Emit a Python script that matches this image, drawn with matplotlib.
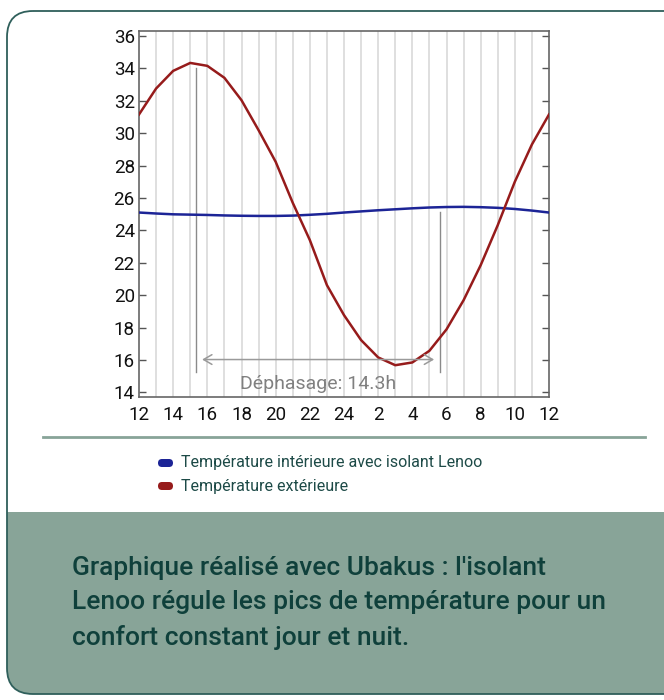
import matplotlib.pyplot as plt
from matplotlib.patches import FancyBboxPatch, Rectangle

plt.rcParams['font.family'] = ['Roboto', 'DejaVu Sans']

# hours since 12h, one point per hour
hours = list(range(25))
hour_labels = ['12', '14', '16', '18', '20', '22', '24', '2', '4', '6', '8', '10', '12']
t_ext = [31.15, 32.75, 33.84, 34.33, 34.15, 33.41, 32.03, 30.18, 28.23, 25.7,
         23.4, 20.62, 18.77, 17.23, 16.16, 15.68, 15.85, 16.57, 17.89, 19.69,
         21.85, 24.32, 27.0, 29.3, 31.15]
t_int = [25.10, 25.04, 24.99, 24.97, 24.95, 24.92, 24.90, 24.89, 24.89, 24.91,
         24.96, 25.02, 25.10, 25.17, 25.24, 25.30, 25.36, 25.41, 25.44, 25.45,
         25.43, 25.39, 25.32, 25.22, 25.10]
peak_ext = (3.33, 34.0)
peak_int = (17.64, 25.14)
dephasage = 'Déphasage: 14.3h'
legend_labels = ['Température intérieure avec isolant Lenoo', 'Température extérieure']
caption = ("Graphique réalisé avec Ubakus : l'isolant\n"
           "Lenoo régule les pics de température pour un\n"
           "confort constant jour et nuit.")

teal_dark = '#0f403b'
teal_border = '#2f5f5b'
panel = '#88a498'
red = '#961b1b'
blue = '#1c2496'

fig = plt.figure(figsize=(6.64, 7.0), dpi=100)

# background card in pixel coordinates
bg = fig.add_axes([0, 0, 1, 1])
bg.set_xlim(0, 664)
bg.set_ylim(700, 0)
bg.axis('off')
card = FancyBboxPatch((7, 11), 700, 683, boxstyle='round,pad=0,rounding_size=26',
                      fc='white', ec='none')
bg.add_patch(card)
lower = Rectangle((0, 512), 720, 200, fc=panel, ec='none')
bg.add_patch(lower)
lower.set_clip_path(card)
bg.add_patch(FancyBboxPatch((7, 11), 700, 683, boxstyle='round,pad=0,rounding_size=26',
                            fc='none', ec=teal_border, lw=1.3))
bg.plot([43, 645], [437, 437], color=panel, lw=2)

# legend
leg_y = [463, 486]
for y, lab, c in zip(leg_y, legend_labels, [blue, red]):
    bg.add_patch(FancyBboxPatch((158, y - 4), 15, 8, boxstyle='round,pad=0,rounding_size=4',
                                fc=c, ec='none'))
    bg.text(181, y, lab, fontsize=11.5, color='#1d4a47', va='center', ha='left')

bg.text(72, 603, caption, fontsize=19, color=teal_dark, fontweight='medium',
        va='center', ha='left', linespacing=1.52)

# chart
ax = fig.add_axes([139 / 664, 1 - 397.3 / 700, 410 / 664, (397.3 - 31) / 700])
ax.set_xlim(0, 24)
ax.set_ylim(13.7, 36.3)
for h in hours[1:-1]:
    ax.axvline(h, color='#dcdcdc', lw=1.3, zorder=0)

ax.plot(hours, t_int, color=blue, lw=1.8, zorder=3)
ax.plot(hours, t_ext, color=red, lw=1.8, zorder=3)

ax.plot([peak_ext[0], peak_ext[0]], [15.27, peak_ext[1]], color='#8a8a8a', lw=1)
ax.plot([peak_int[0], peak_int[0]], [15.27, peak_int[1]], color='#8a8a8a', lw=1)
ax.annotate('', xy=(peak_ext[0] + 0.2, 16.03), xytext=(peak_int[0] - 0.2, 16.03),
            arrowprops=dict(arrowstyle='<->,head_length=0.6,head_width=0.35',
                            color='#9a9a9a', lw=1.1))
ax.text((peak_ext[0] + peak_int[0]) / 2, 14.55, dephasage, fontsize=14,
        color='#808080', ha='center', va='center')

ax.set_xticks(range(0, 25, 2))
ax.set_xticklabels(hour_labels)
ax.set_yticks(range(14, 37, 2))
ax.tick_params(axis='x', length=0, pad=6, labelsize=13.5, labelcolor='#111111')
ax.tick_params(axis='y', direction='in', length=5, width=1, color='#555555',
               right=True, labelsize=13.5, labelcolor='#111111', pad=3)
for s in ax.spines.values():
    s.set_color('#666666')
    s.set_linewidth(1.2)

fig.savefig('out.png', dpi=100)
